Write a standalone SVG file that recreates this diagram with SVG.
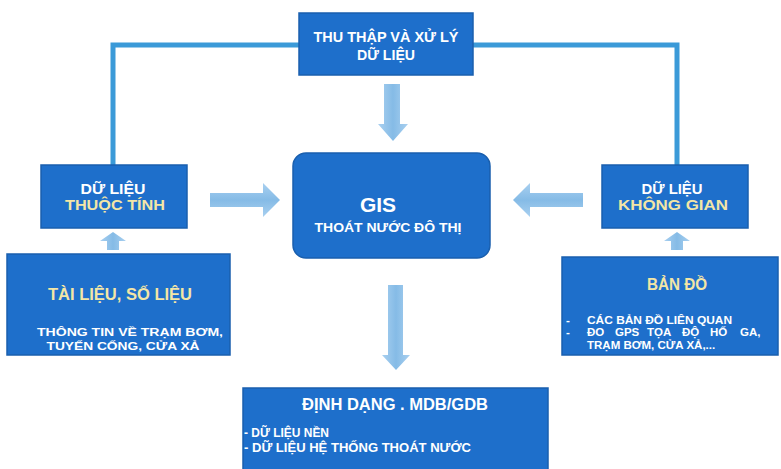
<svg xmlns="http://www.w3.org/2000/svg" width="781" height="469" viewBox="0 0 781 469">
<defs>
<linearGradient id="gv" x1="0" y1="0" x2="1" y2="0"><stop offset="0" stop-color="#a9d0f0"/><stop offset="0.5" stop-color="#85bbe6"/><stop offset="1" stop-color="#a9d0f0"/></linearGradient>
<linearGradient id="gh" x1="0" y1="0" x2="0" y2="1"><stop offset="0" stop-color="#a9d0f0"/><stop offset="0.5" stop-color="#85bbe6"/><stop offset="1" stop-color="#a9d0f0"/></linearGradient>
</defs>
<style>
.box{fill:#1e6fcb;stroke:#1a5fae;stroke-width:1.5}
.t{font-family:"Liberation Sans",Arial,sans-serif;font-weight:bold;fill:#ffffff}
.y{fill:#f3e6a6}
.c{text-anchor:middle}
.line{fill:none;stroke:#3b9ad8;stroke-width:5}
.av{fill:url(#gv)}
.ah{fill:url(#gh)}
</style>
<rect width="781" height="469" fill="#ffffff"/>
<g id="connectors">
<polyline class="line" points="113,165 113,45 299,45"/>
<polyline class="line" points="677,165 677,45 473,45"/>
<polygon class="av" points="384,84 400,84 400,124 408,124 393,141 378,124 384,124"/>
<polygon class="av" points="388,285 403,285 403,355 410,355 396,370 382,355 388,355"/>
<polygon class="ah" points="210,193 263,193 263,183 280,200 263,217 263,207 210,207"/>
<polygon class="ah" points="583,193 530,193 530,183 513,200 530,217 530,207 583,207"/>
<polygon class="av" points="107,250 119,250 119,241 126,241 113,232 100,241 107,241"/>
<polygon class="av" points="671,250 683,250 683,241 690,241 677,232 664,241 671,241"/>
</g>
<g id="thu-thap">
<rect class="box" x="299" y="13" width="174" height="62"/>
<text class="t c" x="386" y="42" font-size="14" textLength="145" lengthAdjust="spacingAndGlyphs">THU THẬP VÀ XỬ LÝ</text>
<text class="t c" x="386" y="60" font-size="14" textLength="58" lengthAdjust="spacingAndGlyphs">DỮ LIỆU</text>
</g>
<g id="thuoc-tinh">
<rect class="box" x="41" y="165" width="146" height="63"/>
<text class="t c" x="113" y="194" font-size="14" textLength="65" lengthAdjust="spacingAndGlyphs">DỮ LIỆU</text>
<text class="t y c" x="115" y="210" font-size="14" textLength="100" lengthAdjust="spacingAndGlyphs">THUỘC TÍNH</text>
</g>
<g id="gis">
<rect class="box" x="293" y="153" width="197" height="105" rx="13"/>
<text class="t c" x="378" y="212" font-size="21">GIS</text>
<text class="t c" x="388" y="232" font-size="13" textLength="147" lengthAdjust="spacingAndGlyphs">THOÁT NƯỚC ĐÔ THỊ</text>
</g>
<g id="khong-gian">
<rect class="box" x="602" y="165" width="146" height="63"/>
<text class="t c" x="672" y="194" font-size="14" textLength="61" lengthAdjust="spacingAndGlyphs">DỮ LIỆU</text>
<text class="t y c" x="673" y="210" font-size="14" textLength="110" lengthAdjust="spacingAndGlyphs">KHÔNG GIAN</text>
</g>
<g id="tai-lieu">
<rect class="box" x="7" y="254" width="223" height="101"/>
<text class="t y c" x="120" y="300" font-size="16" textLength="144" lengthAdjust="spacingAndGlyphs">TÀI LIỆU, SỐ LIỆU</text>
<text class="t c" x="130" y="336" font-size="11.5" textLength="186" lengthAdjust="spacingAndGlyphs">THÔNG TIN VỀ TRẠM BƠM,</text>
<text class="t c" x="123" y="350" font-size="11.5" textLength="153" lengthAdjust="spacingAndGlyphs">TUYẾN CỐNG, CỬA XẢ</text>
</g>
<g id="ban-do">
<rect class="box" x="562" y="257" width="216" height="98"/>
<text class="t y c" x="677" y="290" font-size="16" textLength="60" lengthAdjust="spacingAndGlyphs">BẢN ĐỒ</text>
<text class="t" x="566" y="324" font-size="11.5">-</text>
<text class="t" x="587" y="324" font-size="11.5" textLength="145" lengthAdjust="spacingAndGlyphs">CÁC BẢN ĐỒ LIÊN QUAN</text>
<text class="t" x="566" y="336" font-size="11.5">-</text>
<text class="t" y="336" font-size="11.5"><tspan x="587">ĐO</tspan><tspan x="615">GPS</tspan><tspan x="647">TỌA</tspan><tspan x="682">ĐỘ</tspan><tspan x="710">HỐ</tspan><tspan x="740">GA,</tspan></text>
<text class="t" x="587" y="349" font-size="11.5">TRẠM BƠM, CỬA XẢ,...</text>
</g>
<g id="dinh-dang">
<rect class="box" x="243" y="388" width="305" height="85"/>
<text class="t c" x="395" y="410" font-size="16" textLength="186" lengthAdjust="spacingAndGlyphs">ĐỊNH DẠNG . MDB/GDB</text>
<text class="t" x="244" y="437" font-size="12" textLength="85" lengthAdjust="spacingAndGlyphs">- DỮ LIỆU NỀN</text>
<text class="t" x="244" y="452" font-size="12" textLength="227" lengthAdjust="spacingAndGlyphs">- DỮ LIỆU HỆ THỐNG THOÁT NƯỚC</text>
</g>
</svg>
